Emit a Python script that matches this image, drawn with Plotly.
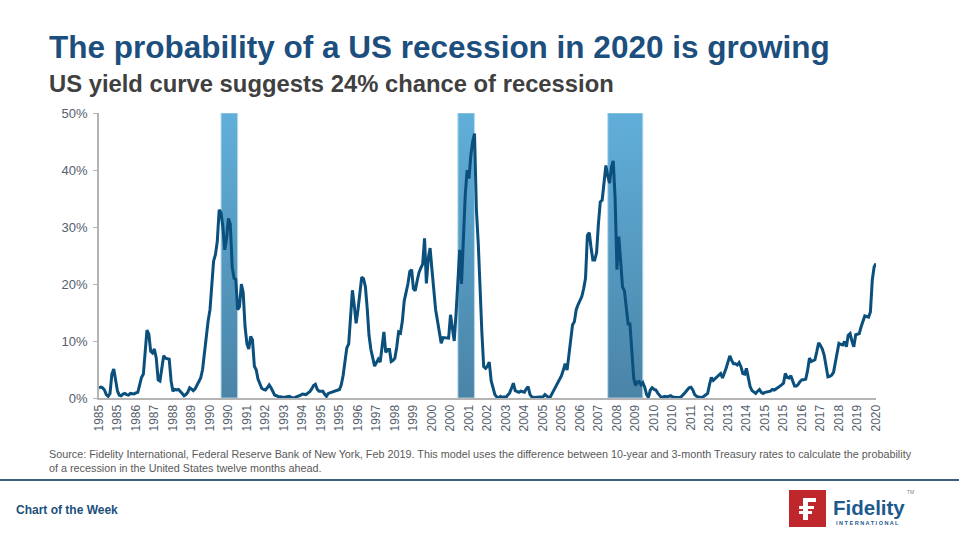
import pandas as pd
import plotly.graph_objects as go

# ---------------- data ----------------
start_month = "1985-01-01"
prob_1985_2020 = [
    1.8, 1.9, 1.8, 1.4, 0.6, 0.3, 0.8, 4.2, 5.1, 3.0, 1.2, 0.5,        # 1985
    0.4, 0.7, 0.8, 0.6, 0.5, 0.8, 0.8, 0.7, 0.9, 1.0, 2.3, 3.6,        # 1986
    4.2, 8.0, 11.9, 11.2, 8.2, 7.9, 8.6, 7.0, 3.2, 3.0, 5.5, 7.4,      # 1987
    7.0, 6.9, 6.8, 3.0, 1.2, 1.5, 1.4, 1.5, 1.2, 0.8, 0.4, 0.6,        # 1988
    1.0, 1.8, 1.6, 1.3, 1.6, 2.2, 2.9, 3.5, 5.0, 8.0, 10.8, 13.5,      # 1989
    15.5, 19.5, 24.0, 25.2, 27.5, 33.0, 32.5, 30.0, 26.0, 28.0, 31.5, 30.5,  # 1990
    23.0, 21.0, 20.8, 15.5, 16.0, 20.0, 18.5, 12.5, 9.5, 8.6, 10.8, 10.2,   # 1991
    5.6, 4.9, 3.3, 2.5, 1.7, 1.5, 1.4, 1.8, 2.3, 1.8, 1.0, 0.5,        # 1992
    0.4, 0.2, 0.2, 0.1, 0.1, 0.2, 0.2, 0.3, 0.1, 0.0, 0.1, 0.2,        # 1993
    0.3, 0.5, 0.7, 0.6, 0.6, 0.9, 1.1, 1.6, 2.2, 2.4, 1.5, 1.2,        # 1994
    1.2, 1.2, 0.7, 0.3, 0.8, 0.9, 1.1, 1.2, 1.3, 1.3, 1.5, 2.3,        # 1995
    4.0, 6.5, 8.8, 9.5, 15.0, 18.9, 16.3, 13.1, 15.5, 18.5, 21.2, 20.9,     # 1996
    19.5, 15.5, 11.0, 8.5, 7.0, 5.6, 6.2, 6.8, 6.3, 8.5, 11.6, 8.0,    # 1997
    8.5, 8.5, 6.4, 6.6, 7.0, 9.0, 11.6, 11.4, 13.5, 17.0, 18.5, 20.0,  # 1998
    22.2, 22.5, 19.2, 18.8, 20.5, 22.0, 22.8, 23.5, 28.0, 20.1, 24.5, 26.3,  # 1999
    22.5, 18.0, 15.5, 13.5, 11.6, 9.6, 10.6, 10.6, 10.5, 10.5, 14.6, 12.5,   # 2000
    10.0, 15.0, 21.0, 26.0, 20.0, 28.5, 35.5, 40.0, 38.5, 42.5, 45.0, 46.4,  # 2001
    33.0, 27.0, 19.0, 11.5, 5.5, 5.2, 5.6, 6.3, 3.0, 1.7, 0.6, 0.2,    # 2002
    0.0, 0.3, 0.1, 0.2, 0.1, 0.5, 0.9, 1.7, 2.6, 1.3, 1.1, 1.0,        # 2003
    1.2, 1.1, 1.0, 1.6, 2.0, 0.6, 0.2, 0.1, 0.1, 0.1, 0.1, 0.2,        # 2004
    0.2, 0.6, 0.3, 0.1, 0.2, 0.8, 1.5, 2.1, 2.8, 3.4, 3.9, 4.9,        # 2005
    6.0, 4.9, 7.5, 10.0, 12.8, 13.4, 15.5, 16.4, 17.0, 17.8, 19.2, 21.0,     # 2006
    28.5, 29.0, 26.5, 24.2, 24.2, 25.5, 30.5, 34.4, 34.7, 37.5, 40.8, 39.0,  # 2007
    37.7, 40.5, 41.6, 35.0, 22.5, 28.3, 24.0, 19.5, 18.8, 16.0, 13.0, 13.0,  # 2008
    8.0, 3.5, 2.2, 2.8, 2.9, 2.3, 2.7, 1.9, 0.6, 0.1, 1.4, 1.8,        # 2009
    1.5, 1.4, 0.9, 0.5, 0.1, 0.2, 0.3, 0.2, 0.3, 0.4, 0.2, 0.1,        # 2010
    0.1, 0.1, 0.1, 0.3, 0.6, 1.0, 1.4, 1.8, 1.9, 1.4, 0.6, 0.3,        # 2011
    0.2, 0.1, 0.1, 0.3, 0.6, 0.8, 2.3, 3.6, 3.1, 3.4, 3.8, 4.0,        # 2012
    4.3, 3.5, 4.2, 5.2, 6.3, 7.4, 6.6, 6.0, 6.0, 5.8, 6.2, 5.5,        # 2013
    4.3, 4.2, 5.2, 3.5, 2.0, 1.3, 1.0, 0.8, 1.2, 1.5, 1.0, 0.8,        # 2014
    1.0, 1.1, 1.2, 1.2, 1.5, 1.4, 1.6, 1.8, 2.0, 2.3, 2.6, 4.3,        # 2015
    3.6, 3.5, 3.9, 2.8, 2.1, 2.1, 2.4, 2.9, 3.2, 3.2, 3.3, 4.8,        # 2016
    7.0, 6.4, 6.5, 6.7, 8.1, 9.7, 9.2, 8.6, 7.5, 5.2, 3.7, 3.8,        # 2017
    4.0, 4.5, 6.1, 7.5, 9.6, 9.4, 9.3, 9.9, 9.0, 11.0, 11.3, 10.0,     # 2018
    9.0, 11.1, 11.2, 11.3, 12.5, 13.4, 14.4, 14.3, 14.2, 15.1, 20.7, 23.0,   # 2019
    23.6,                                                              # 2020
]
recession_start = ["1990-07-01", "2001-03-01", "2007-12-01"]
recession_end = ["1991-03-01", "2001-11-01", "2009-06-01"]
tick_every_months = 10
y_ticks = [0, 10, 20, 30, 40, 50]

title = "The probability of a US recession in 2020 is growing"
subtitle = "US yield curve suggests 24% chance of recession"
source = ("Source: Fidelity International, Federal Reserve Bank of New York, Feb 2019. This model uses the difference "
          "between 10-year and 3-month Treasury rates to calculate the probability<br>of a recession in the United States "
          "twelve months ahead.")

# ---------------- figure ----------------
W, H = 959, 540
L, R, T, B = 99, 83, 113, 142
PW, PH = W - L - R, H - T - B

def fx(px):
    return (px - L) / PW

def fy(py):
    return (H - B - py) / PH

dates = pd.date_range(start_month, periods=len(prob_1985_2020), freq="MS")
tick_dates = dates[::tick_every_months]
tick_text = [str(d.year) for d in tick_dates]

FONT = "Liberation Sans, Arial, sans-serif"
BLUE = "#1c4f7e"

fig = go.Figure()

for s, e in zip(recession_start, recession_end):
    x0 = pd.Timestamp(s)
    x1 = pd.Timestamp(e) + pd.DateOffset(months=1)
    fig.add_trace(go.Scatter(
        x=[x0, x1, x1, x0, x0], y=[0, 0, 50, 50, 0],
        mode="lines", fill="toself",
        fillgradient=dict(type="vertical", colorscale=[[0, "#4a84a7"], [1, "#60afda"]]),
        line=dict(width=1.2, color="rgba(190,220,238,0.8)"),
        hoverinfo="skip", showlegend=False,
    ))

fig.add_trace(go.Scatter(
    x=dates, y=prob_1985_2020, mode="lines",
    line=dict(color="#0b4f7d", width=3),
    showlegend=False,
))

fig.update_layout(
    width=W, height=H,
    margin=dict(l=L, r=R, t=T, b=B),
    paper_bgcolor="white", plot_bgcolor="white",
    font=dict(family=FONT, color="#55606c"),
    xaxis=dict(
        type="date",
        range=[dates[0], dates[-1]],
        tickmode="array", tickvals=tick_dates, ticktext=tick_text,
        tickangle=-90, tickfont=dict(size=12, color="#55606c"),
        showgrid=False, zeroline=False,
        showline=True, linecolor="#b4b4b4", linewidth=2,
        ticks="",
    ),
    yaxis=dict(
        range=[0, 50], tickmode="array", tickvals=y_ticks,
        ticktext=[f"{v}%" for v in y_ticks], tickfont=dict(size=13, color="#55606c"),
        showgrid=False, zeroline=False,
        showline=True, linecolor="#b4b4b4", linewidth=1.5,
        ticks="outside", ticklen=4, tickcolor="#b4b4b4", ticklabelstandoff=3,
    ),
)

annotations = [
    dict(text=f"<b>{title}</b>", x=47, y=47, font=dict(size=31.5, color=BLUE)),
    dict(text=f"<b>{subtitle}</b>", x=47, y=84, font=dict(size=23.8, color="#404040")),
    dict(text=source, x=47, y=461, font=dict(size=10.8, color="#595959")),
    dict(text="<b>Chart of the Week</b>", x=14, y=510, font=dict(size=12, color=BLUE)),
    dict(text="<b>Fidelity</b>", x=831, y=507, font=dict(size=20.5, color="#1d5a8e")),
    dict(text="<b>I N T E R N A T I O N A L</b>", x=834, y=523, font=dict(size=5.5, color="#1d5a8e")),
    dict(text="TM", x=905, y=492, font=dict(size=5, color="#7f7f7f")),
]
for a in annotations:
    fig.add_annotation(
        text=a["text"], x=fx(a["x"]), y=fy(a["y"]),
        xref="paper", yref="paper", xanchor="left", yanchor="middle",
        showarrow=False, font=dict(family=FONT, **a["font"]), align="left",
    )

def px_rect(x0, y0, x1, y1, color):
    fig.add_shape(type="rect", xref="paper", yref="paper",
                  x0=fx(x0), x1=fx(x1), y0=fy(y1), y1=fy(y0),
                  fillcolor=color, line=dict(width=0), layer="above")

# footer divider
fig.add_shape(type="line", xref="paper", yref="paper", x0=fx(0), x1=fx(W),
              y0=fy(480), y1=fy(480), line=dict(color="#3f5f7e", width=2))
# logo square with F mark
px_rect(789, 490, 826, 527, "#c0272d")
px_rect(803, 498, 808, 520, "white")
px_rect(803, 498, 816, 502, "white")
px_rect(799, 506, 814, 509, "white")
px_rect(799, 511, 812, 514, "white")

fig.write_html("out.html")
